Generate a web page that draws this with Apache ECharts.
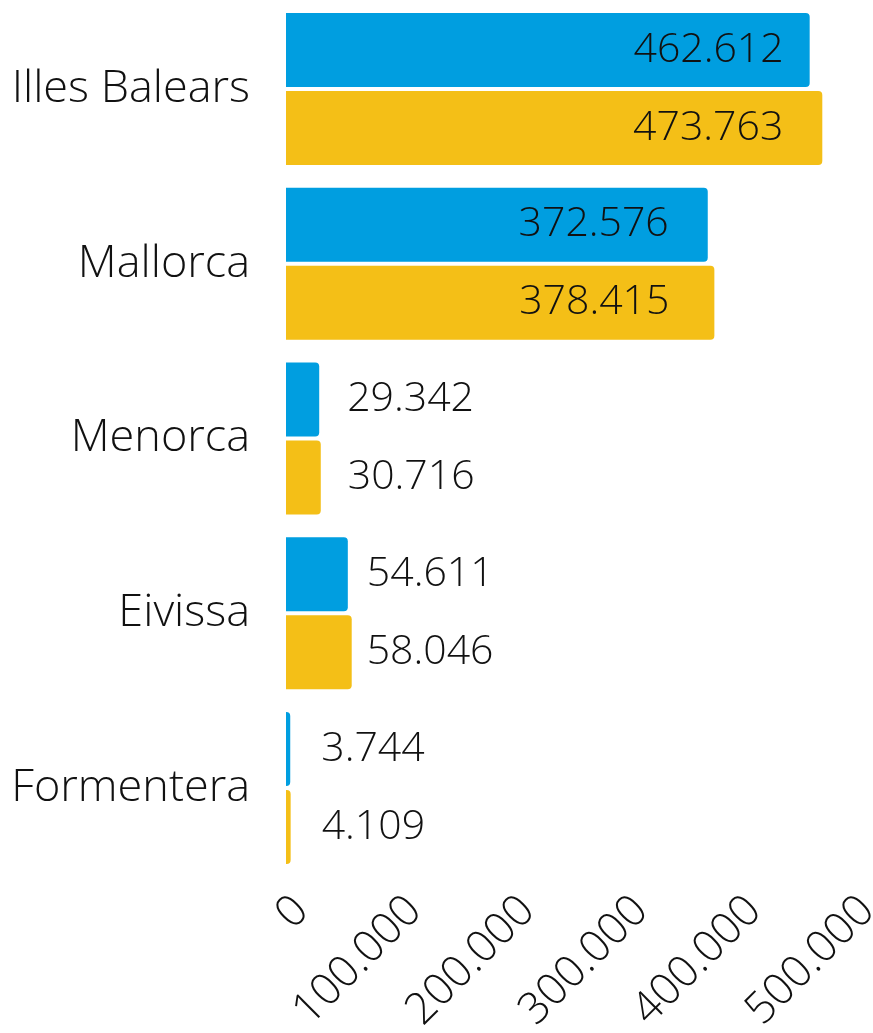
<!DOCTYPE html>
<html>
<head>
    <meta charset="utf-8">
    <title>Illes Balears</title>
    <script src="https://cdn.jsdelivr.net/npm/echarts@6/dist/echarts.min.js"></script>
    <style>
        html, body { margin: 0; padding: 0; background: #fff; }
        #main { width: 873px; height: 1033px; }
    </style>
</head>
<body>
<div id="main"></div>
<script>
    // dades
    var categories = ['Illes Balears', 'Mallorca', 'Menorca', 'Eivissa', 'Formentera'];
    var serieA = [462612, 372576, 29342, 54611, 3744];
    var serieB = [473763, 378415, 30716, 58046, 4109];
    var axisTicks = [0, 100000, 200000, 300000, 400000, 500000];

    // on va cada etiqueta (dins o fora de la barra) i a quina distància
    var labelPosA = [['insideRight', 26], ['insideRight', 39], ['right', 28], ['right', 19], ['right', 31]];
    var labelPosB = [['insideRight', 39], ['insideRight', 45], ['right', 27], ['right', 15], ['right', 31]];

    var FONT = "'Open Sans'";

    function fmt(v) {
        return String(v).replace(/\B(?=(\d{3})+(?!\d))/g, '.');
    }

    function buildData(values, pos) {
        return values.map(function (v, i) {
            return {
                value: v,
                label: { position: pos[i][0], distance: pos[i][1] }
            };
        });
    }

    var myChart = echarts.init(document.getElementById('main'));

    var valueLabel = {
        show: true,
        fontFamily: FONT,
        fontWeight: 300,
        fontSize: 41,
        color: '#111',
        formatter: function (p) { return fmt(p.value); }
    };

    var option = {
        animation: false,
        grid: {
            left: 286,
            right: 21,
            top: 1.7,
            bottom: 157.7,
            containLabel: false,
            outerBoundsMode: 'none'
        },
        xAxis: {
            type: 'value',
            min: axisTicks[0],
            max: axisTicks[axisTicks.length - 1],
            interval: axisTicks[1] - axisTicks[0],
            axisLine: { show: false },
            axisTick: { show: false },
            splitLine: { show: false },
            axisLabel: {
                rotate: 45,
                margin: 13,
                verticalAlign: 'top',
                fontFamily: FONT,
                fontWeight: 300,
                fontSize: 44,
                color: '#111',
                formatter: function (v) { return fmt(v); }
            }
        },
        yAxis: {
            type: 'category',
            data: categories,
            inverse: true,
            axisLine: { show: false },
            axisTick: { show: false },
            splitLine: { show: false },
            axisLabel: {
                margin: 36,
                padding: [4, 0, 0, 0],
                fontFamily: FONT,
                fontWeight: 300,
                fontSize: 45,
                color: '#111'
            }
        },
        series: [
            {
                type: 'bar',
                data: buildData(serieA, labelPosA),
                barWidth: 74,
                barGap: '5.4%',
                itemStyle: { color: '#009ee0', borderRadius: [0, 4, 4, 0] },
                label: valueLabel
            },
            {
                type: 'bar',
                data: buildData(serieB, labelPosB),
                barWidth: 74,
                itemStyle: { color: '#f4bf17', borderRadius: [0, 4, 4, 0] },
                label: valueLabel
            }
        ]
    };

    myChart.setOption(option);
</script>
</body>
</html>
